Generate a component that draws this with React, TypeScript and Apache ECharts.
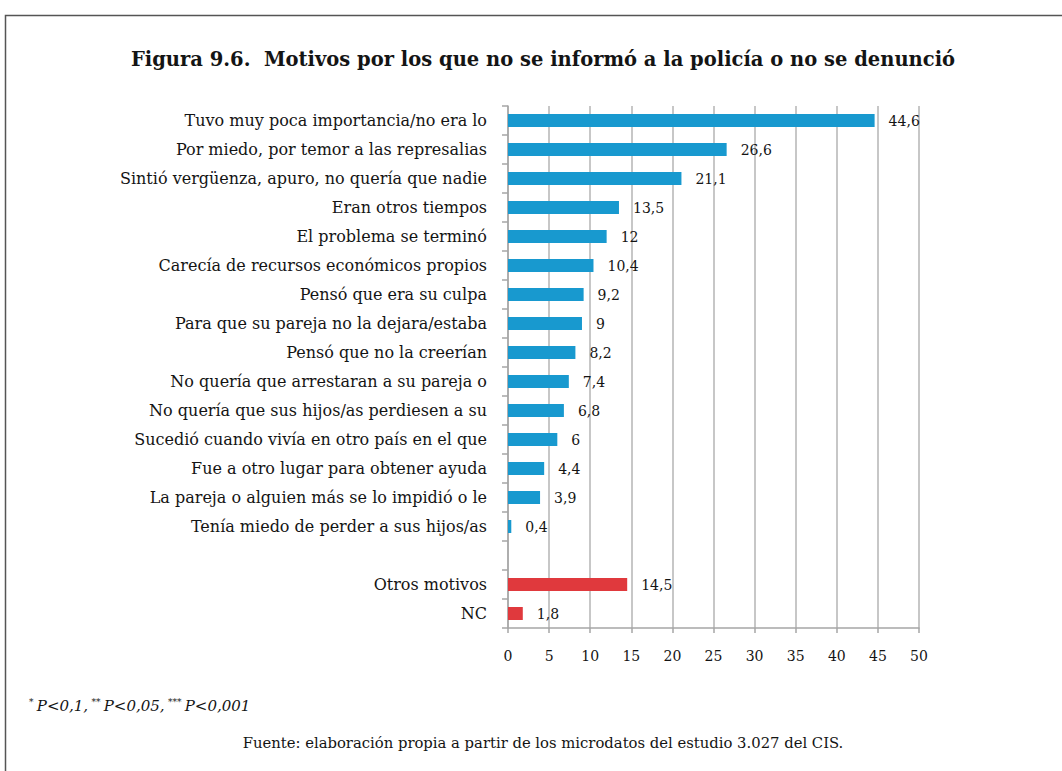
import React, { useEffect, useRef } from "react";
import * as echarts from "echarts";

const categories = [
  "Tuvo muy poca importancia/no era lo",
  "Por miedo, por temor a las represalias",
  "Sintió vergüenza, apuro, no quería que nadie",
  "Eran otros tiempos",
  "El problema se terminó",
  "Carecía de recursos económicos propios",
  "Pensó que era su culpa",
  "Para que su pareja no la dejara/estaba",
  "Pensó que no la creerían",
  "No quería que arrestaran a su pareja o",
  "No quería que sus hijos/as perdiesen a su",
  "Sucedió cuando vivía en otro país en el que",
  "Fue a otro lugar para obtener ayuda",
  "La pareja o alguien más se lo impidió o le",
  "Tenía miedo de perder a sus hijos/as",
  "",
  "Otros motivos",
  "NC",
];
const values: (number | null)[] = [
  44.6, 26.6, 21.1, 13.5, 12, 10.4, 9.2, 9, 8.2, 7.4, 6.8, 6, 4.4, 3.9, 0.4,
  null, 14.5, 1.8,
];
const groups = [
  "main", "main", "main", "main", "main", "main", "main", "main", "main",
  "main", "main", "main", "main", "main", "main", "none", "other", "other",
];
const xTicks = { min: 0, max: 50, interval: 5 };

const BLUE = "#1899cf";
const RED = "#e0393d";
const FONT = "DejaVu Serif";
const TEXT = "#141414";

export default function App() {
  const ref = useRef<HTMLDivElement>(null);
  useEffect(() => {
    if (!ref.current) return;
    const chart = echarts.init(ref.current, null, { renderer: "svg" });
    const data = values.map((v, i) => ({
      value: v,
      itemStyle: { color: groups[i] === "other" ? RED : BLUE },
    }));
    chart.setOption({
      animation: false,
      backgroundColor: "#ffffff",
      grid: { left: 508, right: 143, top: 106, bottom: 143, containLabel: false },
      xAxis: {
        type: "value",
        min: xTicks.min,
        max: xTicks.max,
        interval: xTicks.interval,
        axisLine: { show: true, lineStyle: { color: "#a6a6a6", width: 1.5 } },
        axisTick: { show: true, length: 5, lineStyle: { color: "#a6a6a6", width: 1.5 } },
        splitLine: { show: true, lineStyle: { color: "#b4b4b4", width: 1.5 } },
        axisLabel: { color: TEXT, fontFamily: FONT, fontSize: 14, margin: 21 },
      },
      yAxis: {
        type: "category",
        data: categories,
        inverse: true,
        axisLine: { show: true, lineStyle: { color: "#a6a6a6", width: 1.5 } },
        axisTick: { show: true, length: 6, alignWithLabel: false, lineStyle: { color: "#a6a6a6", width: 1.5 } },
        axisLabel: { color: TEXT, fontFamily: FONT, fontSize: 16, margin: 21, interval: 0 },
      },
      series: [
        {
          type: "bar",
          data,
          barWidth: 13,
          label: {
            show: true,
            position: "right",
            distance: 14,
            color: TEXT,
            fontFamily: FONT,
            fontSize: 14,
            formatter: (p: any) =>
              p.value == null ? "" : String(p.value).replace(".", ","),
          },
        },
      ],
      graphic: [
        {
          type: "rect",
          shape: { x: 5.5, y: 15.5, width: 1100, height: 800 },
          style: { fill: "none", stroke: "#555555", lineWidth: 1.5 },
          silent: true,
        },
        {
          type: "text",
          x: 543,
          y: 59,
          style: {
            text: "Figura 9.6.  Motivos por los que no se informó a la policía o no se denunció",
            fontFamily: FONT,
            fontWeight: "bold",
            fontSize: 19.5,
            fill: TEXT,
            align: "center",
            verticalAlign: "middle",
          },
        },
        {
          type: "text",
          x: 29,
          y: 706,
          style: {
            text: "{s|*} {i|P<0,1,} {s|**} {i|P<0,05,} {s|***} {i|P<0,001}",
            rich: {
              s: { fontFamily: FONT, fontSize: 9, fill: TEXT, verticalAlign: "top", padding: [0, 0, 9, 0] },
              i: { fontFamily: FONT, fontStyle: "italic", fontSize: 15, fill: TEXT },
            },
            fill: TEXT,
            verticalAlign: "middle",
          },
        },
        {
          type: "text",
          x: 543,
          y: 742,
          style: {
            text: "Fuente: elaboración propia a partir de los microdatos del estudio 3.027 del CIS.",
            fontFamily: FONT,
            fontSize: 14.8,
            fill: TEXT,
            align: "center",
            verticalAlign: "middle",
          },
        },
      ],
    });
    return () => chart.dispose();
  }, []);
  return (
    <div
      ref={ref}
      style={{ position: "fixed", left: 0, top: 0, width: 1062, height: 771 }}
    />
  );
}
